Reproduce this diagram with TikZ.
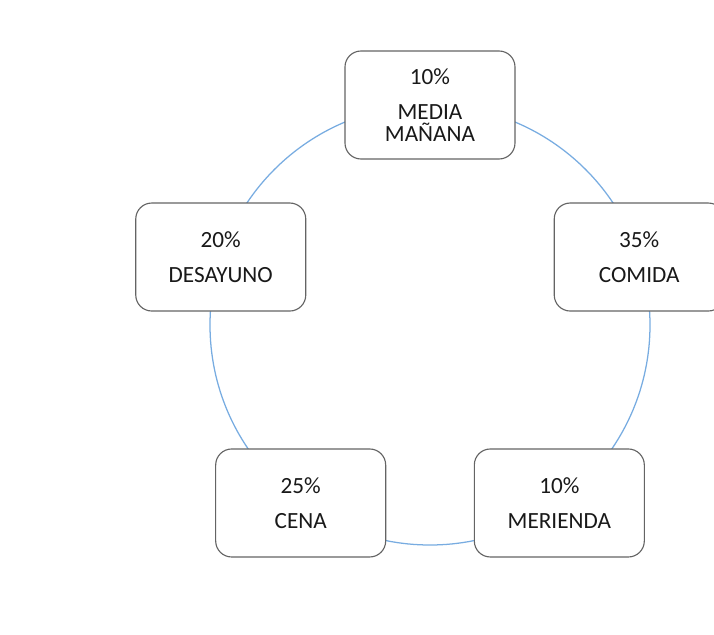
\documentclass[tikz,border=0pt]{standalone}
\usepackage{fontspec}
\setmainfont{Carlito}
\definecolor{ringblue}{RGB}{120,172,225}
\definecolor{boxgray}{RGB}{100,100,100}
\begin{document}
\begin{tikzpicture}[ring/.style={draw=ringblue, line width=0.9pt},
                    meal node/.style={draw=boxgray, line width=0.8pt, fill=white,
                      rounded corners=0.4cm, minimum width=4.25cm, minimum height=2.7cm,
                      align=center, text=black!90, font=\fontsize{16.5}{16}\selectfont}]

        \useasboundingbox (-10.75,-7.725) rectangle (7.1,8.125);

        % Draw ring
        \coordinate (c) at (0,0);
        \draw[ring] (c) circle (5.5);

        % Define vertices
        \node[meal node] (mm) at (90:5.5) {10\%\\[9pt]MEDIA\\MAÑANA};
        \node[meal node] (com) at (18:5.5) {35\%\\[9pt]COMIDA};
        \node[meal node] (mer) at (-54:5.5) {10\%\\[9pt]MERIENDA};
        \node[meal node] (cen) at (234:5.5) {25\%\\[9pt]CENA};
        \node[meal node] (des) at (162:5.5) {20\%\\[9pt]DESAYUNO};

\end{tikzpicture}
\end{document}
